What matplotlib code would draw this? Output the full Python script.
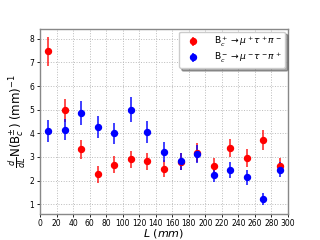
import matplotlib
matplotlib.use("Agg")
import matplotlib.pyplot as plt

L = [10, 30, 50, 70, 90, 110, 130, 150, 170, 190, 210, 230, 250, 270, 290]
red_vals = [7.47, 4.97, 3.32, 2.26, 2.67, 2.90, 2.81, 2.51, 2.80, 3.19, 2.61, 3.37, 2.96, 3.71, 2.61]
red_errs = [0.60, 0.48, 0.40, 0.34, 0.36, 0.37, 0.37, 0.35, 0.37, 0.40, 0.34, 0.38, 0.37, 0.43, 0.35]
blue_vals = [4.10, 4.16, 4.86, 4.26, 4.00, 5.01, 4.05, 3.22, 2.81, 3.12, 2.24, 2.45, 2.14, 1.21, 2.47]
blue_errs = [0.46, 0.45, 0.49, 0.47, 0.44, 0.51, 0.46, 0.42, 0.38, 0.39, 0.30, 0.35, 0.33, 0.25, 0.33]

fig, ax = plt.subplots(figsize=(3.2, 2.4), dpi=100)
ax.errorbar(L, red_vals, yerr=red_errs, fmt='o', color='red', ecolor=(1, 0, 0, 0.7),
            markersize=4.3, elinewidth=1.4, label=r'B$_c^+\to\mu^+\tau^+\pi^-$')
ax.errorbar(L, blue_vals, yerr=blue_errs, fmt='o', color='blue', ecolor=(0, 0, 1, 0.75),
            markersize=4.3, elinewidth=1.4, label=r'B$_c^-\to\mu^-\tau^-\pi^+$')
ax.set_xlim(0, 300)
ax.set_xticks(range(0, 301, 20))
ax.tick_params(labelsize=5.5, length=2.5, width=0.6, pad=1.5)
ax.grid(True, linestyle=':', color='#bbbbbb', linewidth=0.7)
for s in ax.spines.values():
    s.set_color('#888888')
    s.set_linewidth(1.0)
ax.set_xlabel(r'$L\ (mm)$', fontsize=8, labelpad=-0.5)
ax.set_ylabel(r'$\frac{d}{dL}$N(B$_c^{\pm}$) (mm)$^{-1}$', fontsize=8.5, labelpad=1)
ax.legend(loc='upper right', fontsize=6.6, shadow=True, framealpha=1, handlelength=2.4,
          borderpad=0.35, labelspacing=0.2, handletextpad=1.1, borderaxespad=0.3)
fig.savefig('out.png', dpi=100)
